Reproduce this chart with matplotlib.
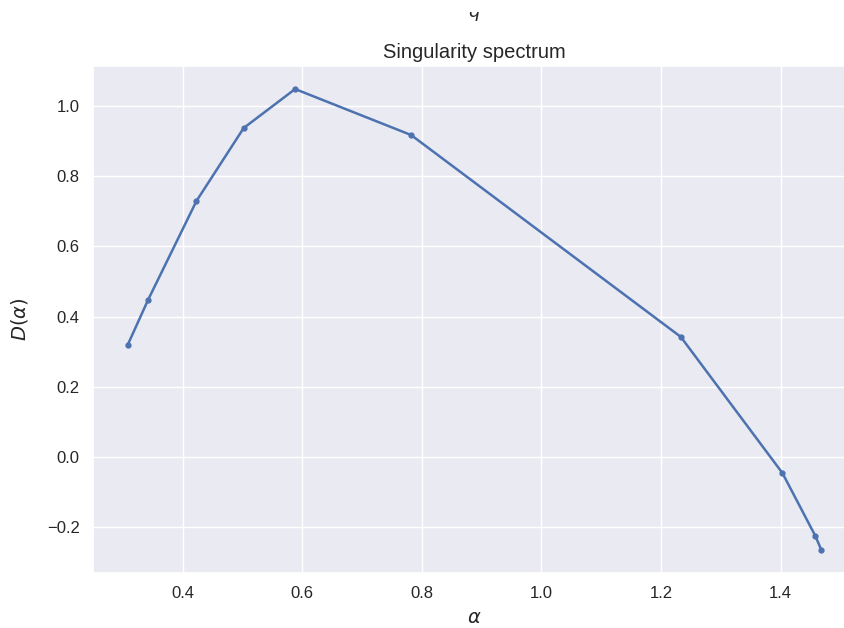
import matplotlib
matplotlib.use("Agg")
import matplotlib.pyplot as plt
from matplotlib.patches import Rectangle
import seaborn as sns

sns.set_theme()
plt.rcParams['font.family'] = ['Liberation Sans', 'DejaVu Sans']
plt.rcParams['font.sans-serif'] = ['Liberation Sans', 'DejaVu Sans']

alpha = [0.308, 0.342, 0.423, 0.502, 0.588, 0.782, 1.233, 1.403, 1.458, 1.468]
D_alpha = [0.319, 0.447, 0.729, 0.937, 1.048, 0.917, 0.342, -0.046, -0.225, -0.265]

fig = plt.figure(figsize=(8.45, 6.28), dpi=100)
ax = fig.add_axes([93/845, 1 - 573/628, (856 - 93)/845, (573 - 66)/628])
ax.plot(alpha, D_alpha, marker='.', markersize=7, color='#4c72b0', linewidth=1.8)
ax.set_title("Singularity spectrum", fontsize=14.5, color='#262626', pad=6)
ax.set_xlabel(r"$\alpha$", fontsize=14, labelpad=6)
ax.set_ylabel(r"$D(\alpha)$", fontsize=14, labelpad=12)
ax.tick_params(labelsize=12)

# cut-off label of an upper panel (only its lower part is visible)
fig.text(474.5/845, 1 - 17/628, r"$q$", ha='center', va='baseline', fontsize=13)
fig.patches.append(Rectangle((0, 1 - 12/628), 1, 12/628, transform=fig.transFigure,
                             facecolor='white', edgecolor='none', zorder=10))

fig.savefig("out.png", dpi=100)
